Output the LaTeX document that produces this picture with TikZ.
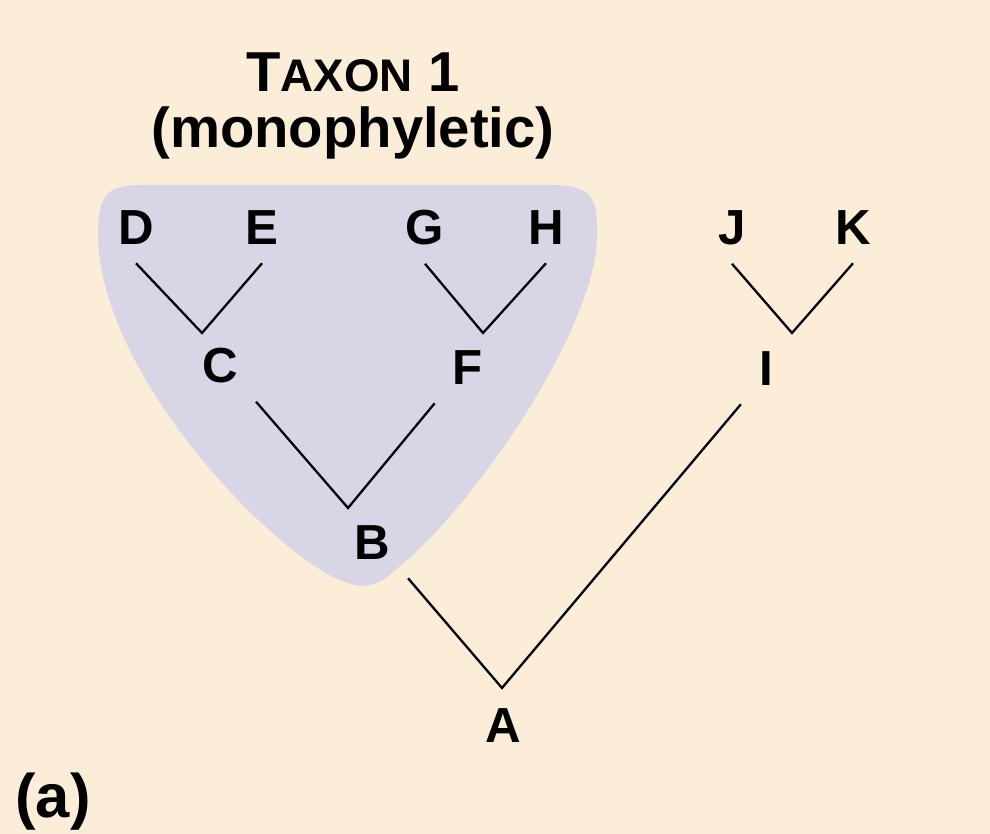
\documentclass[tikz,border=0pt]{standalone}
\usepackage{fontspec}
\setmainfont{Liberation Sans}
\definecolor{paper}{RGB}{251,237,216}
\definecolor{clade}{RGB}{216,214,230}

\tikzset{
  taxon/.style={font=\fontsize{14}{16}\selectfont\bfseries, inner sep=5pt, anchor=base},
  branch/.style={line width=0.65pt, black},
  heading/.style={font=\fontsize{16}{19}\selectfont\bfseries, inner sep=0pt, anchor=base}
}

\begin{document}
\begin{tikzpicture}[x=0.01cm,y=-0.01cm]

\useasboundingbox (0,0) rectangle (990,834);
\fill [paper] (0,0) rectangle (990,834);

% the monophyletic group
\fill [clade] (98,235) .. controls (98,192) and (108,185) .. (145,185) -- (550,185)
   .. controls (590,185) and (598,195) .. (597,235)
   .. controls (597,330) and (470,510) .. (400,566)
   .. controls (385,580) and (370,592) .. (345,582)
   .. controls (280,560) and (100,380) .. (98,235) -- cycle;

\node [heading] (title) at (353,92) {T{\fontsize{13}{16}\selectfont AXON} 1};
\node [heading] (kind) at (353,148) {(monophyletic)};

\foreach \n/\x in {D/136,E/262,G/425,H/546,J/732,K/853}
   \node [taxon] (\n) at (\x,245) {\n};

\coordinate (jC) at (202,333);
\coordinate (jF) at (483,333);
\coordinate (jI) at (792,333);
\coordinate (jB) at (348,508);
\coordinate (jA) at (502,688);

\node [taxon] (C) at (220,383) {C};
\node [taxon] (F) at (468,385) {F};
\node [taxon] (I) at (766,386) {I};
\node [taxon] (B) at (372,560) {B};
\node [taxon] (A) at (503,743) {A};

\draw [branch] (D.south) -- (jC) -- (E.south);
\draw [branch] (G.south) -- (jF) -- (H.south);
\draw [branch] (J.south) -- (jI) -- (K.south);
\draw [branch] (C.south east) -- (jB) -- (F.south west);
\draw [branch] (B.south east) -- (jA) -- (I.south west);

\node [heading, font=\fontsize{17.5}{20}\selectfont\bfseries] (part) at (53,818) {(a)};

\end{tikzpicture}
\end{document}
